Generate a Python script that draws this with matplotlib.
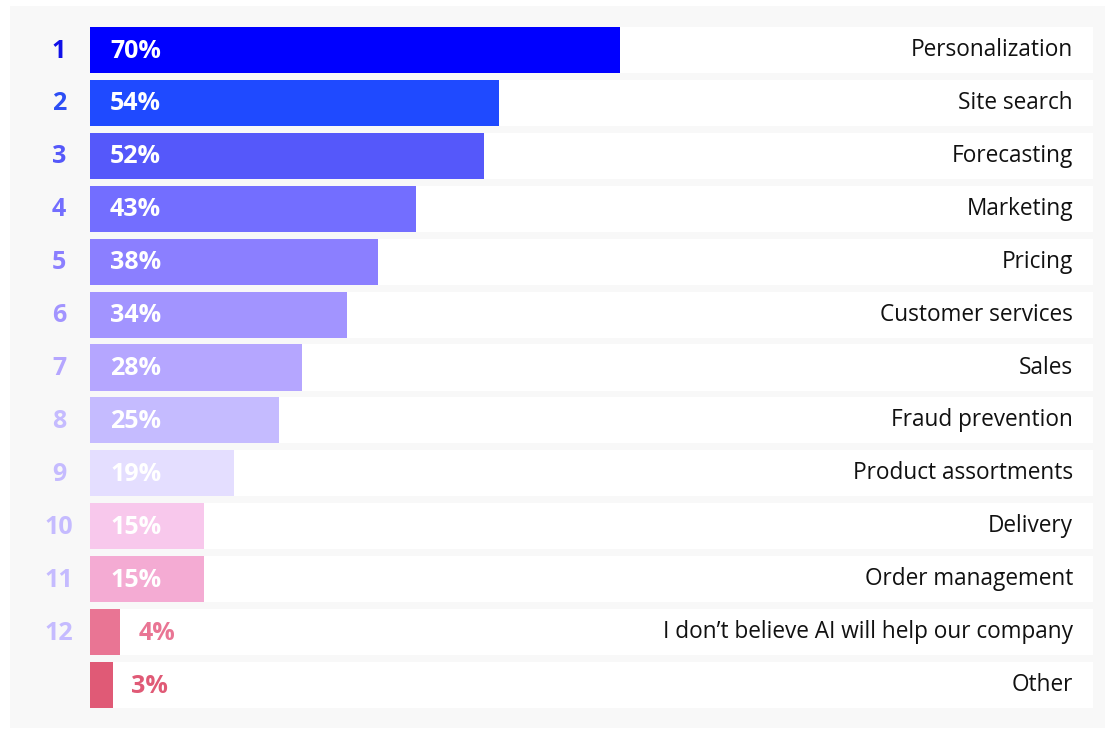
import matplotlib
matplotlib.use("Agg")
import matplotlib.pyplot as plt

categories = ["Personalization", "Site search", "Forecasting", "Marketing", "Pricing",
              "Customer services", "Sales", "Fraud prevention", "Product assortments",
              "Delivery", "Order management", "I don\u2019t believe AI will help our company", "Other"]
values = [70, 54, 52, 43, 38, 34, 28, 25, 19, 15, 15, 4, 3]
ranks = ["1", "2", "3", "4", "5", "6", "7", "8", "9", "10", "11", "12", ""]
bar_colors = ["#0000FF", "#1F4AFF", "#5558FA", "#736EFF", "#8B7FFF", "#A294FF", "#B5A6FF",
              "#C5BBFF", "#E4DEFF", "#F8C8EC", "#F4ABD3", "#E97594", "#E05A76"]
rank_colors = ["#1010E8", "#2D4EF5", "#5558FA", "#736EFF", "#8B7FFF", "#A294FF", "#B5A6FF",
               "#C5BBFF", "#C5BBFF", "#C5BBFF", "#C5BBFF", "#C5BBFF", "#C5BBFF"]

W, H = 1105, 729
fig = plt.figure(figsize=(W / 100, H / 100), dpi=100, facecolor="white")

# light grey panel
bg = fig.add_axes([10 / W, 1 - 728 / H, (1105 - 10) / W, (728 - 6) / H], zorder=-5)
bg.set_facecolor("#F8F8F8")
bg.set_xticks([])
bg.set_yticks([])
for s in bg.spines.values():
    s.set_visible(False)

x0, x1 = 90, 1093
ytop, ybot = 23.5, 711.5
ax = fig.add_axes([x0 / W, 1 - ybot / H, (x1 - x0) / W, (ybot - ytop) / H], zorder=1)
ax.patch.set_visible(False)
px_per_pct = 7.57
xmax = (x1 - x0) / px_per_pct
n = len(values)
ax.set_xlim(0, xmax)
ax.set_ylim(n - 0.5, -0.5)
for s in ax.spines.values():
    s.set_visible(False)
ax.set_xticks([])
ax.set_yticks([])

h = 0.87
ys = list(range(n))
ax.barh(ys, [xmax] * n, height=h, color="white", zorder=1)
ax.barh(ys, values, height=h, color=bar_colors, zorder=2)

off = 20 / px_per_pct
for i, (v, c, lab, r, rc) in enumerate(zip(values, bar_colors, categories, ranks, rank_colors)):
    if v >= 10:
        ax.text(off, i + 0.02, f"{v}%", color="white", fontsize=18, fontweight="bold",
                family="Open Sans", va="center", ha="left", zorder=3)
    else:
        ax.text(v + 18 / px_per_pct, i + 0.02, f"{v}%", color=c, fontsize=18, fontweight="bold",
                family="Open Sans", va="center", ha="left", zorder=3)
    ax.text(xmax - 20 / px_per_pct, i, lab, color="#111111", fontsize=16.3,
            family="Open Sans", va="center", ha="right", zorder=3)
    if r:
        ax.text(-(90 - 59) / px_per_pct, i + 0.02, r, color=rc, fontsize=18, fontweight="bold",
                family="Open Sans", va="center", ha="center", zorder=3, clip_on=False)

fig.savefig("out.png", dpi=100, facecolor="white")
